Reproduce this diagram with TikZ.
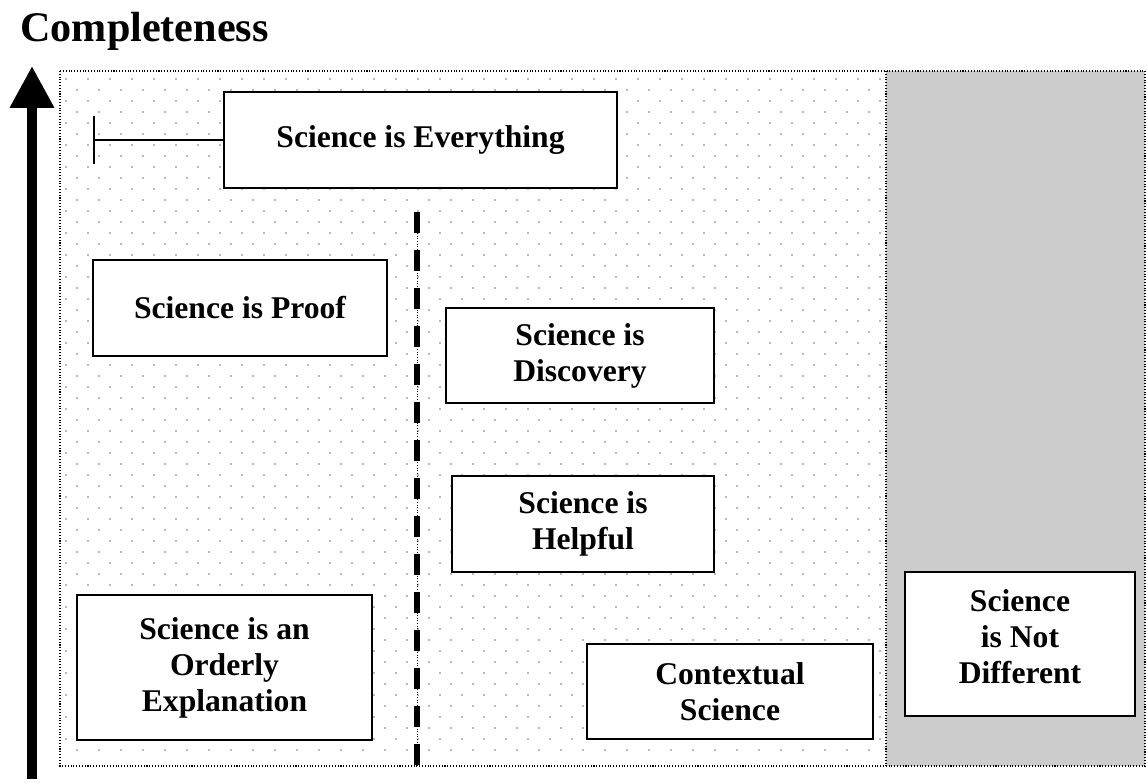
\documentclass[tikz,border=0pt]{standalone}
\usepackage{fontspec}
\setmainfont{Liberation Serif}
\usepackage{tikz}
\usetikzlibrary{arrows.meta, positioning, calc}
\usepackage{xcolor}
\definecolor{dotgray}{RGB}{185,185,185}
\definecolor{panelgray}{RGB}{204,204,204}

\tikzset{
  stance/.style={draw, fill=white, line width=1.1pt, align=center,
    font=\fontsize{18}{20.5}\selectfont\bfseries, inner sep=0pt},
}

\begin{document}
\begin{tikzpicture}[x=0.02cm, y=-0.02cm]
  \useasboundingbox (0,0) rectangle (1147,783);
  % Dotted field
  \begin{scope}
    \clip (60,71) rectangle (886,766);
    \foreach \i in {0,...,61} {
      \foreach \j in {0,...,37} {
        \fill[dotgray] ({65+22*\j+11*mod(\i,2)}, {78+11*\i}) rectangle ++(2,2);
      }
    }
  \end{scope}
  % Grey panel
  \fill[panelgray] (886,71) rectangle (1145,766);
  \draw[densely dotted, line width=0.6pt] (60,71) rectangle (1145,766);
  \draw[densely dotted, line width=0.6pt] (886,71) -- (886,766);
  % Divider
  \coordinate (divtop) at (417,212);
  \coordinate (divbot) at (417,766);
  \draw[densely dotted, line width=0.5pt] (divtop) -- (divbot);
  \draw[line width=0.12cm, dash pattern=on 0.42cm off 0.34cm] (divtop) -- (divbot);
  % Boxes
  \node[stance, minimum width=7.86cm, minimum height=1.92cm] (everything) at (420.5,140) {Science is Everything};
  \node[stance, minimum width=5.88cm, minimum height=1.92cm] (proof) at (240,308) {Science is Proof};
  \node[stance, minimum width=5.36cm, minimum height=1.90cm] (discovery) at (580,355.5) {Science is\\Discovery};
  \node[stance, minimum width=5.24cm, minimum height=1.92cm] (helpful) at (583,524) {Science is\\Helpful};
  \node[stance, minimum width=5.90cm, minimum height=2.90cm] (orderly) at (224.5,667.5) {Science is an\\Orderly\\Explanation};
  \node[stance, minimum width=5.72cm, minimum height=1.90cm] (contextual) at (730,691.5) {Contextual\\Science};
  \node[stance, minimum width=4.60cm, minimum height=2.88cm, text depth=0.3cm] (notdiff) at (1020,644) {Science\\is Not\\Different};
  % Tee from top box
  \coordinate (tee) at (93,140);
  \draw[line width=0.7pt, -{Bar[width=0.96cm, line width=1.1pt]}] (everything.west) -- (tee);
  % Completeness axis
  \coordinate (axbot) at (32,779);
  \coordinate (axtop) at (32,66);
  \draw[line width=0.2cm, -{Triangle[length=0.84cm, width=0.84cm]}] (axbot) -- (axtop);
  \node[anchor=base west, inner sep=0pt, font=\fontsize{24}{28}\selectfont\bfseries] (title) at (20,42) {Completeness};
\end{tikzpicture}
\end{document}
